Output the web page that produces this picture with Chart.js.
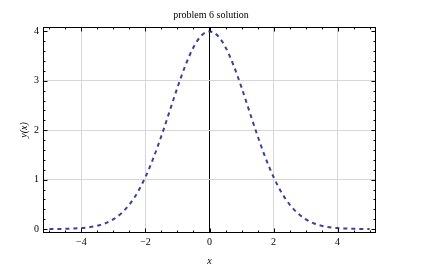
<!DOCTYPE html>
<html>
<head>
<meta charset="utf-8">
<script src="https://cdn.jsdelivr.net/npm/chart.js@4/dist/chart.umd.min.js"></script>
<style>
html,body{margin:0;padding:0;background:#fff;}
#wrap{width:422px;height:272px;}
</style>
</head>
<body>
<div id="wrap"><canvas id="c" width="422" height="272"></canvas></div>
<script>
// ---- data ----
const xValues = [-5,-4.75,-4.5,-4.25,-4,-3.75,-3.5,-3.25,-3,-2.75,-2.5,-2.25,-2,-1.75,-1.5,-1.25,-1,-0.75,-0.5,-0.25,0,
                 0.25,0.5,0.75,1,1.25,1.5,1.75,2,2.25,2.5,2.75,3,3.25,3.5,3.75,4,4.25,4.5,4.75,5];
const yValues = [0.001,0.002,0.005,0.010,0.019,0.037,0.067,0.118,0.199,0.322,0.498,0.740,1.054,1.441,1.889,2.376,2.866,3.316,3.680,3.918,4.0,
                 3.918,3.680,3.316,2.866,2.376,1.889,1.441,1.054,0.740,0.498,0.322,0.199,0.118,0.067,0.037,0.019,0.010,0.005,0.002,0.001];
const xMajorTicks = [-4,-2,0,2,4];
const xMinorTicks = [-5,-4.5,-3.5,-3,-2.5,-1.5,-1,-0.5,0.5,1,1.5,2.5,3,3.5,4.5,5];
const yMajorTicks = [0,1,2,3,4];
const yMinorTicks = [0.2,0.4,0.6,0.8,1.2,1.4,1.6,1.8,2.2,2.4,2.6,2.8,3.2,3.4,3.6,3.8];
const xGridLines = [-4,-2,2,4];
const yGridLines = [1,2,3];
const titleText = 'problem 6 solution';
const xTitle = 'x';
const yTitle = 'y(x)';

const points = xValues.map((x,i)=>({x:x, y:yValues[i]}));
const fmt = v => (v < 0 ? '\u2212' + Math.abs(v) : String(v));
const SERIF = "'Liberation Serif','Times New Roman',serif";

const framePlugin = {
  id: 'frame',
  afterDraw(chart){
    const {ctx, chartArea:a, scales:{x, y}} = chart;
    ctx.save();
    ctx.strokeStyle = '#000';
    ctx.lineWidth = 1;
    ctx.strokeRect(Math.round(a.left)+0.5, Math.round(a.top)+0.5,
                   Math.round(a.right-a.left)-1, Math.round(a.bottom-a.top)-1);
    ctx.beginPath();
    const xt = (v,len)=>{
      const p = Math.round(x.getPixelForValue(v))+0.5;
      ctx.moveTo(p, a.bottom); ctx.lineTo(p, a.bottom-len);
      ctx.moveTo(p, a.top); ctx.lineTo(p, a.top+len);
    };
    const yt = (v,len)=>{
      const p = Math.round(y.getPixelForValue(v))+0.5;
      ctx.moveTo(a.left, p); ctx.lineTo(a.left+len, p);
      ctx.moveTo(a.right, p); ctx.lineTo(a.right-len, p);
    };
    xMajorTicks.forEach(v=>xt(v,4.5));
    xMinorTicks.forEach(v=>xt(v,2.5));
    yMajorTicks.forEach(v=>yt(v,4.5));
    yMinorTicks.forEach(v=>yt(v,2.5));
    ctx.stroke();
    ctx.restore();
  }
};

new Chart(document.getElementById('c'), {
  type: 'line',
  data: {
    datasets: [{
      data: points,
      borderColor: '#3f3f98',
      borderWidth: 2,
      borderDash: [4,4],
      pointRadius: 0,
      fill: false,
      cubicInterpolationMode: 'monotone'
    }]
  },
  options: {
    responsive: false,
    devicePixelRatio: 1,
    animation: false,
    layout: {padding: 0},
    plugins: {
      legend: {display: false},
      tooltip: {enabled: false},
      title: {
        display: true, text: titleText, color: '#000',
        font: {family: SERIF, size: 10, weight: 'normal', lineHeight: 1.2},
        padding: {top: 9, bottom: 6}
      }
    },
    scales: {
      x: {
        type: 'linear', min: -5.2, max: 5.2,
        afterFit(s){ s.height = 39; },
        border: {display: false},
        grid: {
          drawTicks: false,
          lineWidth: 1,
          color: c => (c.tick && c.tick.value === 0) ? '#000' :
                      (c.tick && xGridLines.includes(c.tick.value) ? '#d6d6d6' : 'rgba(0,0,0,0)')
        },
        ticks: {
          stepSize: 0.5, includeBounds: false, autoSkip: false, maxRotation: 0,
          padding: 3, color: '#000',
          font: {family: SERIF, size: 10},
          callback: v => xMajorTicks.includes(v) ? fmt(v) : ''
        },
        title: {
          display: true, text: xTitle, color: '#000',
          font: {family: SERIF, size: 10, style: 'italic', lineHeight: 1.2},
          padding: {top: 0, bottom: 5}
        }
      },
      y: {
        type: 'linear', min: -0.08, max: 4.09,
        afterFit(s){ s.width = 43; },
        border: {display: false},
        grid: {
          drawTicks: false,
          lineWidth: 1,
          color: c => (c.tick && yGridLines.includes(c.tick.value)) ? '#d6d6d6' : 'rgba(0,0,0,0)'
        },
        ticks: {
          stepSize: 1, includeBounds: false, autoSkip: false,
          padding: 4, color: '#000',
          font: {family: SERIF, size: 10},
          callback: v => yMajorTicks.includes(v) ? fmt(v) : ''
        },
        title: {
          display: true, text: yTitle, color: '#000',
          font: {family: SERIF, size: 10, style: 'italic', lineHeight: 1.2},
          padding: {top: 18, bottom: 0}
        }
      },
      yRight: {
        type: 'linear', position: 'right', min: 0, max: 1,
        afterFit(s){ s.width = 46; },
        border: {display: false},
        grid: {display: false, drawTicks: false},
        ticks: {display: false}
      }
    }
  },
  plugins: [framePlugin]
});
</script>
</body>
</html>
